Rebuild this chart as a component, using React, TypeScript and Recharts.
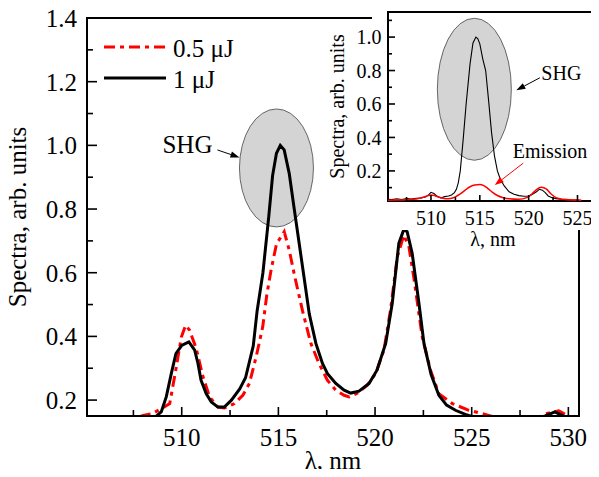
import { LineChart, Line, XAxis, YAxis, ReferenceDot, Legend } from 'recharts'

const FONT = '"Liberation Serif", "Times New Roman", serif'
const RED = '#ff0000'
const INK = '#000'

// ---- main panel: spectra vs wavelength (nm) ----
const MAIN_1UJ_X = [
  505.3, 508.0, 508.6, 508.94, 509.2, 509.46, 509.7, 510.0, 510.37, 510.67, 510.84, 511.0, 511.27,
  511.53, 511.87, 512.2, 512.56, 513.0, 513.3, 513.7, 513.9, 514.2, 514.5, 514.7, 514.9, 515.1,
  515.3, 515.56, 515.82, 516.08, 516.34, 516.6, 516.94, 517.28, 517.54, 517.97, 518.4, 518.74,
  519.17, 519.69, 520.1, 520.55, 520.89, 521.23, 521.49, 521.66, 521.92, 522.27, 522.53, 522.9,
  523.3, 523.7, 524.16, 524.67, 525.2, 526.0, 527.0, 528.0, 528.8, 529.3, 529.8, 530.5,
]
const MAIN_1UJ_Y = [
  0.12, 0.13, 0.145, 0.163, 0.21, 0.283, 0.346, 0.372, 0.383, 0.357, 0.315, 0.262, 0.22,
  0.194, 0.178, 0.178, 0.199, 0.235, 0.27, 0.37, 0.48, 0.6, 0.775, 0.905, 0.975, 1.0,
  0.986, 0.912, 0.8, 0.69, 0.58, 0.47, 0.378, 0.315, 0.283, 0.252, 0.231, 0.222,
  0.228, 0.252, 0.294, 0.378, 0.504, 0.692, 0.736, 0.729, 0.661, 0.504, 0.378, 0.28,
  0.215, 0.184, 0.168, 0.155, 0.145, 0.135, 0.13, 0.135, 0.15, 0.163, 0.148, 0.14,
]

const MAIN_05UJ_X = [
  505.3, 507.5, 508.0, 508.5, 509.0, 509.38, 509.72, 509.98, 510.2, 510.4, 510.75, 511.1, 511.44,
  511.87, 512.2, 512.73, 513.16, 513.5, 513.85, 514.19, 514.4, 514.62, 514.9, 515.3, 515.56,
  515.85, 516.25, 516.68, 517.1, 517.54, 517.97, 518.4, 518.66, 519.1, 519.6, 520.03, 520.46,
  520.8, 521.15, 521.49, 521.75, 522.0, 522.44, 522.87, 523.3, 524.0, 524.85, 525.7, 526.3,
  527.5, 528.5, 528.8, 529.5, 530.0, 530.5,
]
const MAIN_05UJ_Y = [
  0.12, 0.14, 0.152, 0.158, 0.175, 0.189, 0.304, 0.398, 0.435, 0.42, 0.362, 0.273, 0.21,
  0.178, 0.175, 0.189, 0.215, 0.252, 0.336, 0.43, 0.53, 0.608, 0.69, 0.729, 0.671,
  0.587, 0.48, 0.378, 0.315, 0.262, 0.231, 0.215, 0.21, 0.222, 0.247, 0.283, 0.357,
  0.483, 0.65, 0.718, 0.682, 0.587, 0.398, 0.294, 0.22, 0.189, 0.168, 0.155, 0.145,
  0.13, 0.145, 0.157, 0.166, 0.15, 0.14,
]

const MAIN_X_DOMAIN = [505.1, 530.55]
const MAIN_Y_DOMAIN = [0.15, 1.4]
const MAIN_X_TICKS = [507.5, 510, 512.5, 515, 517.5, 520, 522.5, 525, 527.5, 530]
const MAIN_X_LABELS = [510, 515, 520, 525, 530]
const MAIN_Y_TICKS = [0.2, 0.3, 0.4, 0.5, 0.6, 0.7, 0.8, 0.9, 1.0, 1.1, 1.2, 1.3, 1.4]
const MAIN_Y_LABELS = [0.2, 0.4, 0.6, 0.8, 1.0, 1.2, 1.4]

// SHG ellipse centre on the 1 μJ peak
const MAIN_SHG_AT = { x: 514.9, y: 0.929 }

// ---- inset: full-range spectra ----
const INSET_SHG_X = [
  505.6, 506.0, 506.5, 507.0, 507.5, 508.0, 508.5, 509.0, 509.5, 509.8, 510.0, 510.3, 510.7,
  511.0, 511.4, 511.8, 512.1, 512.4, 512.6, 512.8, 513.0, 513.3, 513.6, 514.0, 514.3, 514.6,
  514.8, 515.0, 515.3, 515.6, 515.9, 516.2, 516.5, 516.8, 517.1, 517.5, 518.0, 518.5, 519.0,
  519.5, 520.0, 520.4, 520.8, 521.1, 521.4, 521.7, 522.0, 522.4, 522.8, 523.3, 523.8, 524.3,
  524.8, 525.3,
]
const INSET_SHG_Y = [
  0.03, 0.028, 0.033, 0.029, 0.034, 0.031, 0.036, 0.038, 0.045, 0.06, 0.072, 0.065, 0.045,
  0.038, 0.046, 0.05, 0.056, 0.07, 0.09, 0.13, 0.2, 0.39, 0.6, 0.84, 0.965, 1.0,
  0.99, 0.96, 0.87, 0.8, 0.62, 0.43, 0.29, 0.2, 0.15, 0.11, 0.075, 0.06, 0.052,
  0.048, 0.05, 0.06, 0.075, 0.09, 0.085, 0.07, 0.05, 0.04, 0.034, 0.03, 0.028, 0.026,
  0.025, 0.024,
]
const INSET_EMISSION_X = [
  505.6, 506.5, 507.5, 508.5, 509.2, 509.7, 510.0, 510.4, 511.0, 511.5, 512.0, 512.5, 513.0,
  513.5, 514.0, 514.5, 515.0, 515.4, 515.8, 516.3, 516.8, 517.4, 518.0, 519.0, 519.8, 520.3,
  520.8, 521.3, 521.8, 522.3, 522.8, 523.5, 524.5, 525.4,
]
const INSET_EMISSION_Y = [
  0.025, 0.026, 0.028, 0.032, 0.042, 0.052, 0.056, 0.052, 0.04, 0.033, 0.035, 0.045, 0.062,
  0.085, 0.105, 0.116, 0.118, 0.112, 0.096, 0.072, 0.053, 0.04, 0.033, 0.03, 0.04, 0.06,
  0.088, 0.102, 0.092, 0.062, 0.04, 0.03, 0.026, 0.025,
]

const INSET_X_DOMAIN = [505.6, 527.1]
const INSET_Y_DOMAIN = [0.02, 1.15]
const INSET_X_TICKS = [507.5, 510, 512.5, 515, 517.5, 520, 522.5, 525]
const INSET_X_LABELS = [510, 515, 520, 525]
const INSET_Y_TICKS = [0.1, 0.2, 0.3, 0.4, 0.5, 0.6, 0.7, 0.8, 0.9, 1.0, 1.1]
const INSET_Y_LABELS = [0.2, 0.4, 0.6, 0.8, 1.0]

const INSET_SHG_AT = { x: 514.44, y: 0.688 }
const INSET_EMISSION_AT = { x: 515.1, y: 0.118 }

const zip = (xs: number[], ys: number[]) => xs.map((x, i) => ({ x, y: ys[i] }))

const main1uJ = zip(MAIN_1UJ_X, MAIN_1UJ_Y)
const main05uJ = zip(MAIN_05UJ_X, MAIN_05UJ_Y)
const insetShg = zip(INSET_SHG_X, INSET_SHG_Y)
const insetEmission = zip(INSET_EMISSION_X, INSET_EMISSION_Y)

const SERIES_STYLE: Record<string, { color: string; dash?: string }> = {
  '0.5 μJ': { color: RED, dash: '11 5 4 5' },
  '1 μJ': { color: INK },
}

// chart boxes: size, margins, axis sizes
const MAIN_BOX = { left: 0, top: 0, w: 599, h: 477, mTop: 18, mRight: 20, xAxisH: 61, yAxisW: 87 }
const INSET_BOX = { left: 320, top: 0, w: 279, h: 250, mTop: 12, mRight: 1, xAxisH: 49, yAxisW: 68 }

// plot-area rectangle (page px) left over by a chart box
const plotRect = (b: typeof MAIN_BOX) => ({
  left: b.left + b.yAxisW,
  top: b.top + b.mTop,
  width: b.w - b.mRight - b.yAxisW,
  height: b.h - b.mTop - b.xAxisH,
})

const inList = (v: number, list: number[]) => list.some((l) => Math.abs(l - v) < 1e-6)

const textStyle = (size: number) => ({ fontFamily: FONT, fontSize: size, fill: INK })

type Side = 'left' | 'right' | 'top' | 'bottom'

// inward ticks; labels only on the listed major values
function makeTick(
  side: Side,
  labels: number[],
  opts: { major: number; minor: number; fontSize: number; gap: number; digits: number; showText: boolean }
) {
  return (props: any) => {
    const { x, y, payload } = props
    const v = Number(payload.value)
    const major = inList(v, labels)
    const len = major ? opts.major : opts.minor
    let x2 = x
    let y2 = y
    if (side === 'left') x2 = x + len
    if (side === 'right') x2 = x - len
    if (side === 'top') y2 = y + len
    if (side === 'bottom') y2 = y - len
    const text = v.toFixed(opts.digits)
    return (
      <g>
        <line x1={x} y1={y} x2={x2} y2={y2} style={{ stroke: INK, strokeWidth: 1.6 }} />
        {opts.showText && major && side === 'left' && (
          <text x={x - opts.gap} y={y + opts.fontSize * 0.36} textAnchor="end" style={textStyle(opts.fontSize)}>
            {text}
          </text>
        )}
        {opts.showText && major && side === 'bottom' && (
          <text x={x} y={y + opts.gap} textAnchor="middle" style={textStyle(opts.fontSize)}>
            {text}
          </text>
        )}
      </g>
    )
  }
}

function Arrow({ x1, y1, x2, y2, color }: { x1: number; y1: number; x2: number; y2: number; color: string }) {
  const a = Math.atan2(y2 - y1, x2 - x1)
  const hl = 9
  const hw = 3.2
  const bx = x2 - hl * Math.cos(a)
  const by = y2 - hl * Math.sin(a)
  const px = -Math.sin(a) * hw
  const py = Math.cos(a) * hw
  return (
    <g>
      <line x1={x1} y1={y1} x2={bx} y2={by} style={{ stroke: color, strokeWidth: 1 }} />
      <path d={`M${x2},${y2} L${bx + px},${by + py} L${bx - px},${by - py} Z`} style={{ fill: color }} />
    </g>
  )
}

function XTitle({ viewBox, text, fontSize, dy }: any) {
  const { x, y, width } = viewBox
  return (
    <text x={x + width / 2} y={y + dy} textAnchor="middle" style={textStyle(fontSize)}>
      {text}
    </text>
  )
}

function YTitle({ viewBox, text, fontSize, dx }: any) {
  const { x, y, height } = viewBox
  const cx = x + dx
  const cy = y + height / 2
  return (
    <text x={cx} y={cy} transform={`rotate(-90 ${cx} ${cy})`} textAnchor="middle" style={textStyle(fontSize)}>
      {text}
    </text>
  )
}

// 2px box drawn centred on the plot-area edges
function PlotFrame({ box }: { box: typeof MAIN_BOX }) {
  const r = plotRect(box)
  return (
    <div
      style={{
        position: 'absolute',
        left: r.left - 1,
        top: r.top - 1,
        width: r.width + 2,
        height: r.height + 2,
        border: `2px solid ${INK}`,
        boxSizing: 'border-box',
        pointerEvents: 'none',
      }}
    />
  )
}

function renderLegend(props: any) {
  const payload = props.payload || []
  return (
    <svg width={170} height={70} style={{ display: 'block' }}>
      {payload.map((entry: any, i: number) => {
        const st = SERIES_STYLE[entry.value] || { color: entry.color }
        return (
          <g key={entry.value} transform={`translate(0, ${i * 31})`}>
            <line x1={4} x2={66} y1={17} y2={17} style={{ stroke: st.color, strokeWidth: 3, strokeDasharray: st.dash }} />
            <text x={73} y={26.5} style={textStyle(25)}>
              {entry.value}
            </text>
          </g>
        )
      })}
    </svg>
  )
}

function MainChart() {
  const base = { major: 10, minor: 6, fontSize: 25, digits: 0, showText: false, gap: 0 }
  return (
    <LineChart
      width={MAIN_BOX.w}
      height={MAIN_BOX.h}
      margin={{ top: MAIN_BOX.mTop, right: MAIN_BOX.mRight, bottom: 0, left: 0 }}
    >
      <XAxis
        xAxisId="b"
        type="number"
        dataKey="x"
        domain={MAIN_X_DOMAIN}
        allowDataOverflow
        ticks={MAIN_X_TICKS}
        interval={0}
        tickSize={0}
        tickMargin={0}
        tickLine={false}
        axisLine={false}
        height={MAIN_BOX.xAxisH}
        tick={makeTick('bottom', MAIN_X_LABELS, { ...base, major: 9, gap: 30, showText: true })}
        label={<XTitle text="λ, nm" fontSize={25} dy={53} />}
      />
      <XAxis
        xAxisId="t"
        orientation="top"
        type="number"
        dataKey="x"
        domain={MAIN_X_DOMAIN}
        allowDataOverflow
        ticks={MAIN_X_TICKS}
        interval={0}
        tickSize={0}
        tickMargin={0}
        tickLine={false}
        axisLine={false}
        height={0}
        tick={makeTick('top', MAIN_X_LABELS, base)}
      />
      <YAxis
        yAxisId="l"
        type="number"
        domain={MAIN_Y_DOMAIN}
        allowDataOverflow
        ticks={MAIN_Y_TICKS}
        interval={0}
        tickSize={0}
        tickMargin={0}
        tickLine={false}
        axisLine={false}
        width={MAIN_BOX.yAxisW}
        tick={makeTick('left', MAIN_Y_LABELS, { ...base, digits: 1, gap: 10, showText: true })}
        label={<YTitle text="Spectra, arb. units" fontSize={25} dx={26} />}
      />
      <YAxis
        yAxisId="r"
        orientation="right"
        type="number"
        domain={MAIN_Y_DOMAIN}
        allowDataOverflow
        ticks={MAIN_Y_TICKS}
        interval={0}
        tickSize={0}
        tickMargin={0}
        tickLine={false}
        axisLine={false}
        width={0}
        tick={makeTick('right', MAIN_Y_LABELS, { ...base, major: 7 })}
      />
      <ReferenceDot
        xAxisId="b"
        yAxisId="l"
        x={MAIN_SHG_AT.x}
        y={MAIN_SHG_AT.y}
        r={1}
        zIndex={300}
        shape={(p: any) => (
          <g>
            <ellipse cx={p.cx} cy={p.cy} rx={37} ry={59} style={{ fill: '#d4d4d4', stroke: '#444', strokeWidth: 0.8 }} />
            <text x={p.cx - 114} y={p.cy - 14.5} style={textStyle(25)}>
              SHG
            </text>
            <Arrow x1={p.cx - 59} y1={p.cy - 18} x2={p.cx - 37} y2={p.cy - 10.5} color={INK} />
          </g>
        )}
      />
      <Line
        xAxisId="b"
        yAxisId="l"
        data={main05uJ}
        dataKey="y"
        name="0.5 μJ"
        type="linear"
        stroke={RED}
        strokeWidth={3}
        strokeDasharray={SERIES_STYLE['0.5 μJ'].dash}
        dot={false}
        activeDot={false}
        isAnimationActive={false}
      />
      <Line
        xAxisId="b"
        yAxisId="l"
        data={main1uJ}
        dataKey="y"
        name="1 μJ"
        type="linear"
        stroke={INK}
        strokeWidth={3}
        dot={false}
        activeDot={false}
        isAnimationActive={false}
      />
      <Legend
        layout="vertical"
        align="center"
        verticalAlign="middle"
        content={renderLegend}
        wrapperStyle={{ left: 100, top: 30, width: 170, height: 70 }}
      />
    </LineChart>
  )
}

function InsetChart() {
  const base = { major: 7, minor: 4, fontSize: 20, digits: 0, showText: true, gap: 0 }
  return (
    <LineChart
      width={INSET_BOX.w}
      height={INSET_BOX.h}
      margin={{ top: INSET_BOX.mTop, right: INSET_BOX.mRight, bottom: 0, left: 0 }}
    >
      <XAxis
        xAxisId="b"
        type="number"
        dataKey="x"
        domain={INSET_X_DOMAIN}
        allowDataOverflow
        ticks={INSET_X_TICKS}
        interval={0}
        tickSize={0}
        tickMargin={0}
        tickLine={false}
        axisLine={false}
        height={INSET_BOX.xAxisH}
        tick={makeTick('bottom', INSET_X_LABELS, { ...base, major: 6, gap: 24 })}
        label={<XTitle text="λ, nm" fontSize={20} dy={45} />}
      />
      <YAxis
        yAxisId="l"
        type="number"
        domain={INSET_Y_DOMAIN}
        allowDataOverflow
        ticks={INSET_Y_TICKS}
        interval={0}
        tickSize={0}
        tickMargin={0}
        tickLine={false}
        axisLine={false}
        width={INSET_BOX.yAxisW}
        tick={makeTick('left', INSET_Y_LABELS, { ...base, digits: 1, gap: 6.5 })}
        label={<YTitle text="Spectra, arb. units" fontSize={20} dx={24} />}
      />
      <ReferenceDot
        xAxisId="b"
        yAxisId="l"
        x={INSET_SHG_AT.x}
        y={INSET_SHG_AT.y}
        r={1}
        zIndex={300}
        shape={(p: any) => (
          <g>
            <ellipse cx={p.cx} cy={p.cy} rx={37} ry={71} style={{ fill: '#d4d4d4', stroke: '#444', strokeWidth: 0.8 }} />
            <text x={p.cx + 67} y={p.cy - 9.5} style={textStyle(20)}>
              SHG
            </text>
            <Arrow x1={p.cx + 65.5} y1={p.cy - 11.5} x2={p.cx + 42} y2={p.cy + 1} color={INK} />
          </g>
        )}
      />
      <Line
        xAxisId="b"
        yAxisId="l"
        data={insetShg}
        dataKey="y"
        type="linear"
        stroke={INK}
        strokeWidth={1.1}
        dot={false}
        activeDot={false}
        isAnimationActive={false}
      />
      <Line
        xAxisId="b"
        yAxisId="l"
        data={insetEmission}
        dataKey="y"
        type="monotone"
        stroke={RED}
        strokeWidth={1.5}
        dot={false}
        activeDot={false}
        isAnimationActive={false}
      />
      <ReferenceDot
        xAxisId="b"
        yAxisId="l"
        x={INSET_EMISSION_AT.x}
        y={INSET_EMISSION_AT.y}
        r={1}
        shape={(p: any) => (
          <g>
            <text x={p.cx + 32} y={p.cy - 26.5} style={textStyle(20)}>
              Emission
            </text>
            <Arrow x1={p.cx + 42.5} y1={p.cy - 21.5} x2={p.cx + 14} y2={p.cy + 0.5} color={RED} />
          </g>
        )}
      />
    </LineChart>
  )
}

export default function App() {
  return (
    <div style={{ position: 'relative', width: 599, height: 477, margin: -8, overflow: 'hidden', background: '#fff' }}>
      <div style={{ position: 'absolute', left: MAIN_BOX.left, top: MAIN_BOX.top }}>
        <MainChart />
      </div>
      <PlotFrame box={MAIN_BOX} />
      <div style={{ position: 'absolute', left: 372, top: 0, width: 227, height: 230, background: '#fff' }} />
      <PlotFrame box={INSET_BOX} />
      <div style={{ position: 'absolute', left: INSET_BOX.left, top: INSET_BOX.top }}>
        <InsetChart />
      </div>
    </div>
  )
}
